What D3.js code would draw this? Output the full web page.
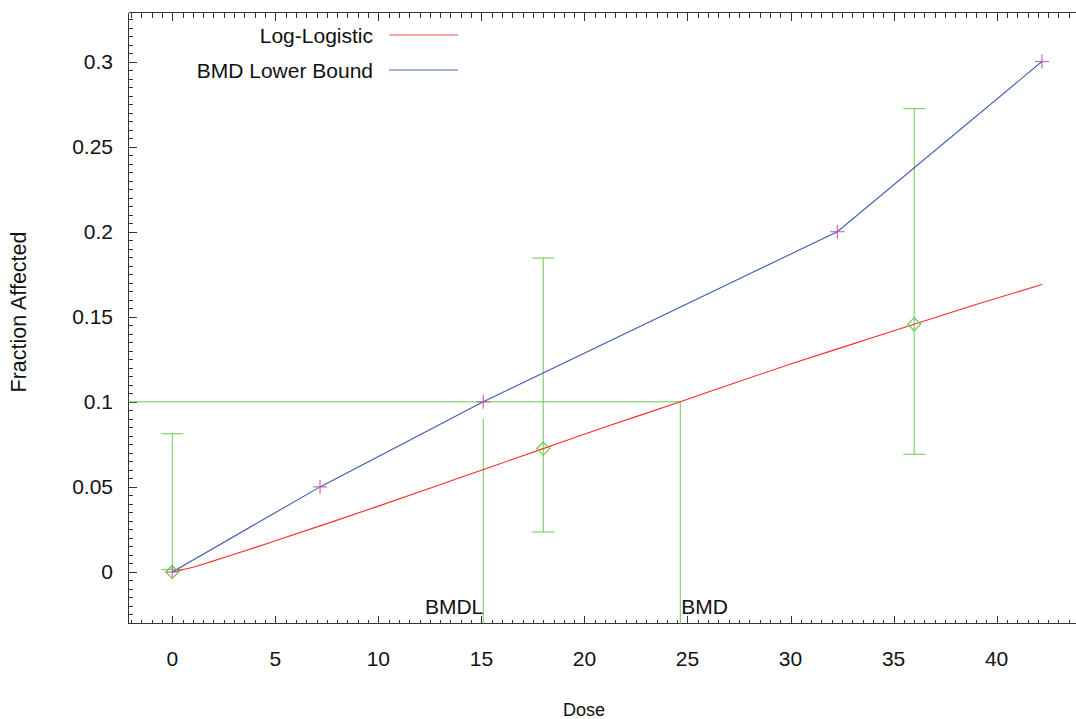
<!DOCTYPE html>
<html>
<head>
<meta charset="utf-8">
<script src="https://cdn.jsdelivr.net/npm/d3@7"></script>
<style>
  html, body { margin: 0; padding: 0; background: #fff; }
  svg { display: block; font-family: "Liberation Sans", Arial, sans-serif; }
</style>
</head>
<body>
<svg id="chart" width="1076" height="719"></svg>
<script>
// Observed dose groups: mean fraction affected and confidence limits
const obsDose  = [0, 18, 36];
const obsMean  = [0, 0.0725, 0.1456];
const obsLower = [0.0015, 0.0235, 0.0692];
const obsUpper = [0.0812, 0.1845, 0.2723];

// Fitted log-logistic model curve
const fitDose = [0, 1, 2, 3, 4, 5, 7.5, 10, 12.5, 15, 18, 21, 24.65, 27, 30, 33, 36, 39, 42.2];
const fitFrac = [0, 0.0028, 0.0065, 0.0104, 0.0143, 0.0183, 0.0284, 0.0387, 0.0492, 0.0598, 0.0725, 0.0852, 0.100, 0.1099, 0.1222, 0.1339, 0.1456, 0.1572, 0.1690];

// BMD lower bound curve
const lbDose = [0, 7.17, 15.09, 32.27, 42.2];
const lbFrac = [0, 0.05, 0.1, 0.2, 0.3];

// Benchmark response and doses
const bmr  = 0.1;
const bmd  = 24.65;
const bmdl = 15.09;
const bmdlLineTop = 0.09;

// Axis ticks
const xTicks = [0, 5, 10, 15, 20, 25, 30, 35, 40];
const yTicks = [0, 0.05, 0.1, 0.15, 0.2, 0.25, 0.3];
const yTickLabels = ["0", "0.05", "0.1", "0.15", "0.2", "0.25", "0.3"];

// Legend
const legendNames = ["Log-Logistic", "BMD Lower Bound"];
const legendColors = ["#ff4d4d", "#4a6cb8"];

const RED = "#ff2a2a", BLUE = "#3c5cb0", GREEN = "#6cc850", MAGENTA = "#c14fae", AXIS = "#333";

const svg = d3.select("#chart");
const x = d3.scaleLinear().domain([-2.1, 43.9]).range([129, 1077]);
const y = d3.scaleLinear().domain([-0.03, 0.329]).range([623, 12.2]);

const frameL = 128.5, frameB = 623.5, frameT = 12.5, frameR = 1076;

// minor tick values
const xMinor = d3.range(-2, 43.6, 0.5).filter(v => Math.abs(v % 5) > 1e-6);
const yMinor = d3.range(-0.03, 0.3275, 0.005).map(v => +v.toFixed(3)).filter(v => Math.abs(Math.round(v * 1000) % 50) !== 0);

const axes = svg.append("g").attr("shape-rendering", "crispEdges").attr("stroke", AXIS).attr("stroke-width", 1);

// frame lines
axes.append("line").attr("x1", frameL).attr("x2", frameL).attr("y1", frameT).attr("y2", frameB);
axes.append("line").attr("x1", frameL).attr("x2", frameR).attr("y1", frameB).attr("y2", frameB);
axes.append("line").attr("x1", frameL).attr("x2", frameR).attr("y1", frameT).attr("y2", frameT);

// bottom + top ticks (inward)
const xMajorPos = xTicks.map(v => Math.round(x(v)) + 0.5);
const xMinorPos = xMinor.map(v => Math.round(x(v)) + 0.5);
xMajorPos.forEach(px => {
  axes.append("line").attr("x1", px).attr("x2", px).attr("y1", frameB).attr("y2", frameB - 8);
  axes.append("line").attr("x1", px).attr("x2", px).attr("y1", frameT).attr("y2", frameT + 8);
});
xMinorPos.forEach(px => {
  axes.append("line").attr("x1", px).attr("x2", px).attr("y1", frameB).attr("y2", frameB - 4);
  axes.append("line").attr("x1", px).attr("x2", px).attr("y1", frameT).attr("y2", frameT + 5);
});

// left ticks (inward)
yTicks.forEach(v => {
  const py = Math.round(y(v)) + 0.5;
  axes.append("line").attr("x1", frameL).attr("x2", frameL + 8).attr("y1", py).attr("y2", py);
});
yMinor.forEach(v => {
  const py = Math.round(y(v)) + 0.5;
  axes.append("line").attr("x1", frameL).attr("x2", frameL + 4).attr("y1", py).attr("y2", py);
});

// tick labels
const labels = svg.append("g").attr("fill", "#111").attr("font-size", 21);
xTicks.forEach(v => {
  labels.append("text").attr("x", x(v)).attr("y", 666).attr("text-anchor", "middle").text(String(v));
});
yTicks.forEach((v, i) => {
  labels.append("text").attr("x", 113).attr("y", y(v) + 7.5).attr("text-anchor", "end").text(yTickLabels[i]);
});

// axis titles
svg.append("text").attr("x", 584).attr("y", 716).attr("text-anchor", "middle")
  .attr("font-size", 18).attr("fill", "#111").text("Dose");
svg.append("text").attr("transform", "translate(26,312) rotate(-90)").attr("text-anchor", "middle")
  .attr("font-size", 21.5).attr("fill", "#111").text("Fraction Affected");

// BMR / BMD / BMDL reference lines
const ref = svg.append("g").attr("stroke", GREEN).attr("stroke-width", 1).attr("fill", "none");
ref.append("line").attr("x1", frameL).attr("x2", x(bmd)).attr("y1", y(bmr)).attr("y2", y(bmr));
ref.append("line").attr("x1", x(bmd)).attr("x2", x(bmd)).attr("y1", y(bmr)).attr("y2", frameB);
ref.append("line").attr("x1", x(bmdl)).attr("x2", x(bmdl)).attr("y1", y(bmdlLineTop)).attr("y2", frameB);

svg.append("text").attr("x", x(bmdl)).attr("y", 614).attr("text-anchor", "end")
  .attr("font-size", 21).attr("fill", "#111").text("BMDL");
svg.append("text").attr("x", x(bmd) + 1).attr("y", 614).attr("text-anchor", "start")
  .attr("font-size", 21).attr("fill", "#111").text("BMD");

// error bars
const eb = svg.append("g").attr("stroke", GREEN).attr("stroke-width", 1).attr("fill", "none");
obsDose.forEach((d, i) => {
  const cx = x(d);
  eb.append("line").attr("x1", cx).attr("x2", cx).attr("y1", y(obsLower[i])).attr("y2", y(obsUpper[i]));
  eb.append("line").attr("x1", cx - 11).attr("x2", cx + 11).attr("y1", y(obsLower[i])).attr("y2", y(obsLower[i]));
  eb.append("line").attr("x1", cx - 11).attr("x2", cx + 11).attr("y1", y(obsUpper[i])).attr("y2", y(obsUpper[i]));
});

// fitted curve and lower bound
const smooth = d3.line().x(d => x(d[0])).y(d => y(d[1])).curve(d3.curveMonotoneX);
const straight = d3.line().x(d => x(d[0])).y(d => y(d[1]));
svg.append("path").datum(d3.zip(fitDose, fitFrac)).attr("d", smooth)
  .attr("fill", "none").attr("stroke", RED).attr("stroke-width", 1.1);
svg.append("path").datum(d3.zip(lbDose, lbFrac)).attr("d", straight)
  .attr("fill", "none").attr("stroke", BLUE).attr("stroke-width", 1.1);

// lower bound markers (+)
const plus = svg.append("g").attr("stroke", MAGENTA).attr("stroke-width", 1.2).attr("opacity", 0.85);
lbDose.forEach((d, i) => {
  const cx = x(d), cy = y(lbFrac[i]);
  plus.append("line").attr("x1", cx - 7).attr("x2", cx + 7).attr("y1", cy).attr("y2", cy);
  plus.append("line").attr("x1", cx).attr("x2", cx).attr("y1", cy - 7).attr("y2", cy + 7);
});

// observed means (diamonds)
svg.append("g").selectAll("path").data(obsDose).join("path")
  .attr("transform", (d, i) => `translate(${x(d)},${y(obsMean[i])})`)
  .attr("d", "M0,-6.5L6.5,0L0,6.5L-6.5,0Z")
  .attr("fill", "none").attr("stroke", GREEN).attr("stroke-width", 1.2);

// legend
const lg = svg.append("g");
legendNames.forEach((name, i) => {
  const ly = 35 + i * 35;
  lg.append("text").attr("x", 373).attr("y", ly + 7.5).attr("text-anchor", "end")
    .attr("font-size", 21).attr("fill", "#111").text(name);
  lg.append("line").attr("x1", 389).attr("x2", 458).attr("y1", ly).attr("y2", ly)
    .attr("stroke", legendColors[i]).attr("stroke-width", 1.2);
});
</script>
</body>
</html>
